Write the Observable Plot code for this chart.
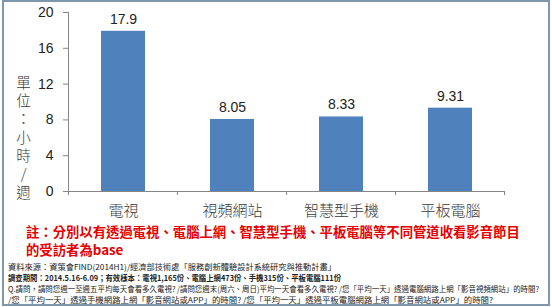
<!DOCTYPE html>
<html>
<head>
<meta charset="utf-8">
<script src="https://cdn.jsdelivr.net/npm/d3@7"></script>
<script src="https://cdn.jsdelivr.net/npm/@observablehq/plot@0.6"></script>
<style>
  html, body { margin: 0; padding: 0; background: #fff; }
  #wrap { position: relative; width: 552px; height: 307px; overflow: hidden; background: #fff; }
  #frame { position: absolute; left: 2px; top: 0px; width: 548px; height: 306px; box-sizing: border-box; border: 2px solid #7f97ad; }
  #chart { position: absolute; left: 0; top: 0; }
  #ytitle { position: absolute; left: 15.5px; top: 74.5px; writing-mode: vertical-rl; text-orientation: upright; font-family: "Noto Sans CJK TC", sans-serif; font-weight: 300; font-size: 14.5px; line-height: 14.5px; letter-spacing: 3.8px; color: #3a3a3a; white-space: nowrap; }
  #note { position: absolute; left: 26px; top: 223px; font-family: "Noto Sans CJK TC", sans-serif; font-weight: bold; font-size: 13.35px; line-height: 18px; color: #e60000; white-space: nowrap; }
  #foot { position: absolute; left: 8px; top: 261px; font-family: "Noto Sans CJK TC", sans-serif; font-size: 8px; color: #222; }
  #foot div { height: 9px; line-height: 9px; white-space: nowrap; transform-origin: 0 50%; }
</style>
</head>
<body>
<div id="wrap">
  <div id="chart"></div>
  <div id="ytitle"></div>
  <div id="note"></div>
  <div id="foot"></div>
  <div id="frame"></div>
</div>
<script>
const categories = ["電視", "視頻網站", "智慧型手機", "平板電腦"];
const values = [17.9, 8.05, 8.33, 9.31];
const valueLabels = ["17.9", "8.05", "8.33", "9.31"];
const yTicks = [0, 4, 8, 12, 16, 20];
const yTitle = "單位：小時/週";
const noteLines = ["註：分別以有透過電視、電腦上網、智慧型手機、平板電腦等不同管道收看影音節目", "的受訪者為base"];
const footLines = [
  "資料來源：資策會FIND(2014H1)/經濟部技術處「服務創新體驗設計系統研究與推動計畫」",
  "調查期間：2014.5.16-6.09；有效樣本：電視1,165份、電腦上網473份、手機315份、平板電腦111份",
  "Q.請問，請問您週一至週五平均每天會看多久電視? /請問您週末(周六、周日)平均一天會看多久電視? /您「平均一天」透過電腦網路上網「影音視頻網站」的時間?",
  "/您「平均一天」透過手機網路上網「影音網站或APP」的時間? /您「平均一天」透過平板電腦網路上網「影音網站或APP」的時間?"
];

const data = categories.map((c, i) => ({cat: c, value: values[i], label: valueLabels[i]}));
const axisColor = "#868686";

const axisLines = (index, scales) => {
  const x = scales.x, y = scales.y;
  const bw = x.bandwidth();
  const step = x.step ? x.step() : bw / 0.4;
  const half = (step - bw) / 2;
  const bounds = categories.map(c => x(c) - half).concat([x(categories[categories.length - 1]) + bw + half]);
  const g = d3.create("svg:g").attr("stroke", axisColor).attr("stroke-width", 1);
  g.append("line").attr("x1", bounds[0]).attr("x2", bounds[0]).attr("y1", y(yTicks[yTicks.length - 1])).attr("y2", y(0));
  for (const b of bounds) {
    g.append("line").attr("x1", b).attr("x2", b).attr("y1", y(0)).attr("y2", y(0) + 4);
  }
  return g.node();
};

const chart = Plot.plot({
  width: 552,
  height: 225,
  marginLeft: 68,
  marginRight: 48,
  marginTop: 12,
  marginBottom: 34,
  style: {fontFamily: "'Liberation Sans', sans-serif", background: "transparent", color: "#222"},
  x: {domain: categories, paddingInner: 0.6, paddingOuter: 0.3},
  y: {domain: [0, 20]},
  marks: [
    Plot.barY(data, {x: "cat", y: "value", fill: "#4f81bd"}),
    Plot.ruleY([0], {stroke: axisColor}),
    axisLines,
    Plot.axisY({ticks: yTicks, tickSize: 5, tickPadding: 10, fontSize: 14, stroke: axisColor, fill: "#222", label: null}),
    Plot.axisX({tickSize: 0, tickPadding: 14, fontSize: 15, fill: "#3a3a3a", label: null, fontFamily: "'Noto Sans CJK TC', sans-serif", fontWeight: 300}),
    Plot.text(data, {x: "cat", y: "value", text: "label", dy: -12, fontSize: 14, fill: "#222", lineAnchor: "middle"})
  ]
});
document.getElementById("chart").append(chart);

document.getElementById("ytitle").textContent = yTitle;

const note = document.getElementById("note");
note.innerHTML = noteLines.map(s => s.replace(/&/g, "&amp;")).join("<br>");

const foot = document.getElementById("foot");
const footWidths = [328, 333, 531, 485];
footLines.forEach((s, i) => {
  const d = document.createElement("div");
  d.textContent = s;
  if (i === 1) d.style.fontWeight = "bold";
  d.style.display = "inline-block";
  foot.append(d);
  foot.append(document.createElement("br"));
  const w = d.getBoundingClientRect().width;
  if (w > 0) d.style.transform = `scaleX(${footWidths[i] / w})`;
});
</script>
</body>
</html>
